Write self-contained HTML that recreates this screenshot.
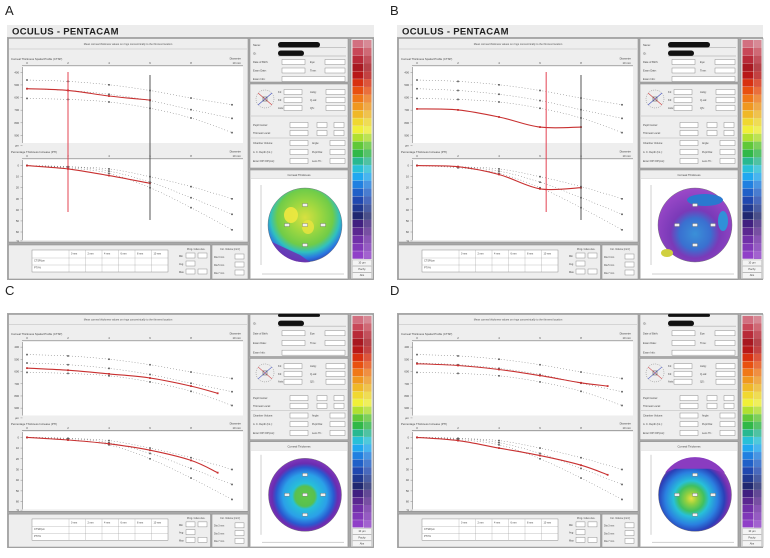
<!DOCTYPE html>
<html><head><meta charset="utf-8"><style>
html,body{margin:0;padding:0;background:#fff;width:770px;height:558px;overflow:hidden}
svg{display:block;font-family:"Liberation Sans",sans-serif}
</style></head><body>
<svg id="fig" width="770" height="558" viewBox="0 0 770 558" xmlns="http://www.w3.org/2000/svg"></svg>
<script>
// ---- data ----
const diam = [0, 2, 4, 6, 8, 10];
const ctspUpper = [461, 472, 499, 544, 604, 657];
const ctspMean = [530, 544, 574, 624, 696, 765];
const ctspLower = [607, 615, 635, 685, 762, 878];
const ptiUpper = [0, 1, 3, 10, 19, 30];
const ptiMean = [0, 1, 5, 15, 29, 44];
const ptiLower = [0, 2, 7, 20, 38, 58];
const ctspTicks = ["400", "500", "600", "700", "800", "900", "µm"];
const ptiTicks = ["0", "10", "20", "30", "40", "50", "60", "%"];
const xTicks = ["0", "2", "4", "6", "8", "10 mm"];
const panelLetters = ["A", "B", "C", "D"];
const redDiamA = [0, 2, 4, 6];
const redCtspA = [530, 543, 588, 620];
const redPtiA = [0, 3, 9, 16];
const redDiamB = [0, 2, 4, 6, 8];
const redCtspB = [690, 698, 754, 834, 834];
const redPtiB = [0, 1, 8, 21, 20];
const redDiamC = [0, 2, 4, 6, 8, 9.3];
const redCtspC = [572, 589, 619, 653, 719, 778];
const redPtiC = [0, 2.5, 6, 12, 21.5, 33];
const redDiamD = [0, 2, 4, 6, 8, 9.3];
const redCtspD = [536, 550, 583, 633, 692, 719];
const redPtiD = [0, 3, 10, 17, 26, 35];
const markerRed = [2, 6.3, null, null];
const markerGrey = [6, 8, null, null];
const barColors = ["#d27080","#c84858","#b82a38","#a81820","#b81818","#d83010","#e85010","#f07818","#f09820","#f0b828","#f0d830","#f0f038","#b0e030","#60c838","#30b848","#28b890","#28c0d8","#20a8f0","#2080e0","#2060c8","#2048b0","#203890","#202870","#402080","#5a2890","#7030a8","#8038b8","#9040c8"];

const S = document.getElementById('fig');
const NS = 'http://www.w3.org/2000/svg';
function el(tag, attrs, parent, txt) {
  const e = document.createElementNS(NS, tag);
  for (const k in attrs) e.setAttribute(k, attrs[k]);
  if (txt !== undefined) e.textContent = txt;
  (parent || S).appendChild(e);
  return e;
}
function smoothPath(P) {
  let d = 'M' + P[0][0].toFixed(1) + ' ' + P[0][1].toFixed(1);
  for (let i = 0; i < P.length - 1; i++) {
    const p0 = P[Math.max(0, i - 1)], p1 = P[i], p2 = P[i + 1], p3 = P[Math.min(P.length - 1, i + 2)];
    const c1 = [p1[0] + (p2[0] - p0[0]) / 6, p1[1] + (p2[1] - p0[1]) / 6];
    const c2 = [p2[0] - (p3[0] - p1[0]) / 6, p2[1] - (p3[1] - p1[1]) / 6];
    d += ' C' + c1.map(v => v.toFixed(1)).join(' ') + ' ' + c2.map(v => v.toFixed(1)).join(' ') + ' ' + p2.map(v => v.toFixed(1)).join(' ');
  }
  return d;
}

const defs = el('defs', {});
function grad(id, stops, cx, cy, r) {
  const g = el('radialGradient', {id: id, cx: cx, cy: cy, r: r}, defs);
  stops.forEach(s => el('stop', {offset: s[0], 'stop-color': s[1]}, g));
}
grad('mapA', [[0,'#d8e040'],[0.3,'#a0d840'],[0.58,'#70cc48'],[0.72,'#30c0c0'],[0.84,'#2a78e0'],[0.93,'#3048b8'],[1,'#7030b0']], '0.5', '0.4', '0.65');
grad('mapB', [[0,'#3a90d8'],[0.35,'#3a70d0'],[0.55,'#7a3ab8'],[1,'#9a48c8']], '0.5', '0.62', '0.6');
grad('mapC', [[0,'#60c848'],[0.25,'#58c050'],[0.32,'#28c0d8'],[0.55,'#2aa0e8'],[0.72,'#2a58d0'],[0.82,'#6a2cb0'],[1,'#8a3cc0']], '0.5', '0.52', '0.55');
grad('mapD', [[0,'#e8e040'],[0.14,'#90d040'],[0.3,'#40c060'],[0.42,'#28c0d8'],[0.62,'#2a80e0'],[0.78,'#2a40b8'],[0.88,'#7030b0'],[1,'#9040c0']], '0.45', '0.55', '0.58');

function panel(idx, ox, oy, hasHeader, fx, fy, fw, fh, redD, redC, redP, mapId) {
  const g = el('g', {});
  
  
  const lab = el('text', {x: ox + 5, y: oy + 15, 'font-size': 13, fill: '#222'}, g, panelLetters[idx]);
  
  
  if (hasHeader) {
    const hb = el('rect', {x: fx, y: fy - 12, width: fw, height: 12, fill: '#ececec'}, g);
    
    
    const ht = el('text', {x: fx + 5, y: fy - 2.5, 'font-size': 9.5, 'font-weight': 'bold', fill: '#222', 'letter-spacing': '0.3'}, g, 'OCULUS  -  PENTACAM');
    
    
  }
  const k = fh / 243;
  const Y = v => fy + v * k;
  const fr = el('rect', {x: fx, y: fy, width: fw, height: fh, fill: '#a8a8a8'}, g);
  
  
  const cb = el('rect', {x: fx + 1.5, y: Y(1.5), width: 239.5, height: Y(205) - Y(1.5), fill: '#eeeeee', stroke: '#888', 'stroke-width': 0.5}, g);
  
  
  el('text', {x: fx + 121, y: Y(8), 'font-size': 2.6, 'text-anchor': 'middle', fill: '#555'}, g, 'Mean corneal thickness values on rings concentrically to the thinnest location');
  el('line', {x1: fx + 2, x2: fx + 240, y1: Y(12), y2: Y(12), stroke: '#bbb', 'stroke-width': 0.5}, g);

  const xL = fx + 20, xR = fx + 225;
  const xs = d => xL + (xR - xL) * d / 10;

  function chart(top, bot, ticks, vmin, vmax, title, up, mid, lo, red, name) {
    const cg = el('g', {}, g);
    
    
    el('text', {x: fx + 4, y: top - 7, 'font-size': 2.8, fill: '#444'}, cg, title);
    el('text', {x: fx + 234, y: top - 7.5, 'font-size': 2.8, 'text-anchor': 'end', fill: '#444'}, cg, 'Diameter');
    xTicks.forEach((t, i) => {
      el('text', {x: i === 5 ? fx + 234 : xs(diam[i]), y: top - 3, 'font-size': 2.8, 'text-anchor': i === 5 ? 'end' : 'middle', fill: '#444'}, cg, t);
    });
    el('line', {x1: fx + 15, x2: fx + 236, y1: top - 1.5, y2: top - 1.5, stroke: '#777', 'stroke-width': 0.6}, cg);
    el('rect', {x: fx + 15, y: top, width: 221, height: bot - top, fill: '#fff'}, cg);
    el('line', {x1: fx + 15.5, x2: fx + 15.5, y1: top, y2: bot, stroke: '#777', 'stroke-width': 0.6}, cg);
    const n = ticks.length - 1;
    const t0 = top + (bot - top) * 0.07, t1 = top + (bot - top) * 0.9;
    const ys = v => t0 + (t1 - t0) * (v - vmin) / (vmax - vmin);
    ticks.forEach((t, i) => {
      const yy = i < n ? ys(vmin + (vmax - vmin) * i / (n - 1)) : t1 + (t1 - t0) / (n - 1) * 0.8;
      el('text', {x: fx + 12, y: yy + 1, 'font-size': 2.8, 'text-anchor': 'end', fill: '#444'}, cg, t);
      el('line', {x1: fx + 13.5, x2: fx + 15.5, y1: yy, y2: yy, stroke: '#777', 'stroke-width': 0.4}, cg);
    });
    function series(vals, dd, col, w, dash, nm, ps) {
      const P = dd.map((d, i) => [xs(d), ys(vals[i])]);
      const pl = el('path', {d: smoothPath(P), fill: 'none', stroke: col, 'stroke-width': w, 'stroke-dasharray': dash}, cg);
      
      
      dd.forEach((d, i) => {
        const r = el('rect', {x: xs(d) - ps / 2, y: ys(vals[i]) - ps / 2, width: ps, height: ps, fill: col}, cg);
        
        
      });
    }
    series(up, diam, '#555', 0.5, '0.8 2.2', 'normal-upper-line', 1.6);
    series(mid, diam, '#555', 0.5, '0.8 2.2', 'normal-mean-line', 1.6);
    series(lo, diam, '#555', 0.5, '0.8 2.2', 'normal-lower-line', 1.6);
    series(red, redD, '#c83030', 1.1, 'none', 'patient-line', 1.8);
    return ys;
  }
  const uTop = Y(30), uBot = Y(106), lTop = Y(123), lBot = Y(203);
  chart(uTop, uBot, ctspTicks, 400, 900, 'Corneal Thickness Spatial Profile (CTSP)', ctspUpper, ctspMean, ctspLower, redC, 'ctsp-chart');
  chart(lTop, lBot, ptiTicks, 0, 60, 'Percentage Thickness Increase (PTI)', ptiUpper, ptiMean, ptiLower, redP, 'pti-chart');
  if (markerRed[idx] !== null) {
    const m = el('line', {x1: xs(markerRed[idx]), x2: xs(markerRed[idx]), y1: uTop + 5, y2: lBot - 28, stroke: '#e03040', 'stroke-width': 0.9}, g);
    
    
    const m2 = el('line', {x1: xs(markerGrey[idx]), x2: xs(markerGrey[idx]), y1: uTop + 8, y2: lBot - 20, stroke: '#444', 'stroke-width': 0.9}, g);
    
    
  }
  const tb = el('rect', {x: fx + 1.5, y: Y(208), width: 202, height: Y(242) - Y(208), fill: '#eeeeee', stroke: '#888', 'stroke-width': 0.5}, g);
  
  
  const tx = fx + 25, tw = 136, rowY = [Y(214), Y(221), Y(228), Y(235)];
  el('rect', {x: tx, y: rowY[0] - 1, width: tw, height: rowY[3] - rowY[0] + 1, fill: '#fff', stroke: '#777', 'stroke-width': 0.4}, g);
  ['', '0 mm', '2 mm', '4 mm', '6 mm', '8 mm', '10 mm'].forEach((h, i) => {
    const cx = tx + (i === 0 ? 0 : 37 + (i - 1) * 16.5);
    if (i > 0) el('line', {x1: cx, x2: cx, y1: rowY[0] - 1, y2: rowY[3], stroke: '#999', 'stroke-width': 0.3}, g);
    el('text', {x: cx + 2, y: rowY[0] + 3.5, 'font-size': 2.5, fill: '#444'}, g, h);
  });
  el('text', {x: tx + 2, y: rowY[1] + 3.5, 'font-size': 2.5, fill: '#444'}, g, 'CTSP/µm');
  el('text', {x: tx + 2, y: rowY[2] + 3.5, 'font-size': 2.5, fill: '#444'}, g, 'PTI/%');
  [1, 2].forEach(r => el('line', {x1: tx, x2: tx + tw, y1: rowY[r], y2: rowY[r], stroke: '#999', 'stroke-width': 0.3}, g));
  el('text', {x: fx + 180, y: Y(213), 'font-size': 2.5, fill: '#444'}, g, 'Prog. Index   Ave.');
  ['Min', 'Avg', 'Max'].forEach((t, i) => {
    el('text', {x: fx + 172, y: Y(219 + i * 8) + 1, 'font-size': 2.5, fill: '#444'}, g, t);
    el('rect', {x: fx + 179, y: Y(216 + i * 8), width: 9, height: 5, fill: '#fff', stroke: '#777', 'stroke-width': 0.4}, g);
    if (i !== 1) el('rect', {x: fx + 191, y: Y(216 + i * 8), width: 9, height: 5, fill: '#fff', stroke: '#777', 'stroke-width': 0.4}, g);
  });
  const eb = el('rect', {x: fx + 205, y: Y(208), width: 36, height: Y(242) - Y(208), fill: '#eeeeee', stroke: '#888', 'stroke-width': 0.5}, g);
  
  
  el('text', {x: fx + 223, y: Y(213), 'font-size': 2.4, 'text-anchor': 'middle', fill: '#444'}, g, 'Cor. Volume [mm³]');
  ['Dia 3 mm', 'Dia 5 mm', 'Dia 7 mm'].forEach((t, i) => {
    el('text', {x: fx + 207, y: Y(221 + i * 8), 'font-size': 2.4, fill: '#444'}, g, t);
    el('rect', {x: fx + 228, y: Y(217 + i * 8), width: 9, height: 5, fill: '#fff', stroke: '#777', 'stroke-width': 0.4}, g);
  });
  const rx = fx + 243;
  const ib = el('rect', {x: rx, y: Y(1.5), width: 98, height: Y(45) - Y(1.5), fill: '#eeeeee', stroke: '#888', 'stroke-width': 0.5}, g);
  
  
  const infoLabels = hasHeader ? ['Name:', 'ID:', 'Date of Birth:', 'Exam Date:', 'Exam Info:'] : ['ID:', 'Date of Birth:', 'Exam Date:', 'Exam Info:'];
  infoLabels.forEach((t, i) => {
    const yy = Y(8 + i * (hasHeader ? 8.5 : 10) + (hasHeader ? 0 : 3));
    el('text', {x: rx + 3, y: yy + 1, 'font-size': 2.6, fill: '#444'}, g, t);
    if (t === 'Name:' || t === 'ID:') {
      el('rect', {x: rx + 28, y: yy - 3, width: t === 'ID:' ? 26 : 42, height: 5.5, rx: 2.7, fill: '#111'}, g);
      el('line', {x1: rx + 28, x2: rx + 96, y1: yy + 2.5, y2: yy + 2.5, stroke: '#888', 'stroke-width': 0.4}, g);
    } else if (t === 'Exam Info:') {
      el('rect', {x: rx + 32, y: yy - 2.5, width: 63, height: 5, fill: '#fff', stroke: '#777', 'stroke-width': 0.4}, g);
    } else {
      el('rect', {x: rx + 32, y: yy - 2.5, width: 23, height: 5, fill: '#fff', stroke: '#777', 'stroke-width': 0.4}, g);
      el('text', {x: rx + 60, y: yy + 1, 'font-size': 2.6, fill: '#444'}, g, t === 'Date of Birth:' ? 'Eye:' : 'Time:');
      el('rect', {x: rx + 75, y: yy - 2.5, width: 20, height: 5, fill: '#fff', stroke: '#777', 'stroke-width': 0.4}, g);
    }
  });
  if (!hasHeader) el('rect', {x: rx + 28, y: Y(2) - 1, width: 42, height: 3, rx: 1.5, fill: '#111'}, g);
  const kb = el('rect', {x: rx, y: Y(47), width: 98, height: Y(131) - Y(47), fill: '#eeeeee', stroke: '#888', 'stroke-width': 0.5}, g);
  
  
  const kcx = rx + 15, kcy = Y(62);
  el('circle', {cx: kcx, cy: kcy, r: 9, fill: 'none', stroke: '#666', 'stroke-width': 0.4, 'stroke-dasharray': '1 1'}, g);
  el('line', {x1: kcx - 7, y1: kcy - 6, x2: kcx + 7, y2: kcy + 6, stroke: '#d04040', 'stroke-width': 0.6}, g);
  el('line', {x1: kcx - 7, y1: kcy + 6, x2: kcx + 7, y2: kcy - 6, stroke: '#4050c0', 'stroke-width': 0.6}, g);
  el('rect', {x: kcx - 2, y: kcy - 2, width: 4, height: 4, fill: 'none', stroke: '#444', 'stroke-width': 0.5}, g);
  [['K1:', 'Astig:'], ['K2:', 'Q-val:'], ['Axis:', 'QS:']].forEach((p, i) => {
    const yy = Y(55 + i * 8);
    el('text', {x: rx + 28, y: yy + 1, 'font-size': 2.6, fill: '#444'}, g, p[0]);
    el('rect', {x: rx + 34, y: yy - 2.5, width: 18, height: 5, fill: '#fff', stroke: '#777', 'stroke-width': 0.4}, g);
    el('text', {x: rx + 60, y: yy + 1, 'font-size': 2.6, fill: '#444'}, g, p[1]);
    el('rect', {x: rx + 76, y: yy - 2.5, width: 19, height: 5, fill: '#fff', stroke: '#777', 'stroke-width': 0.4}, g);
  });
  el('line', {x1: rx + 1, x2: rx + 97, y1: Y(79), y2: Y(79), stroke: '#aaa', 'stroke-width': 0.4}, g);
  ['Pupil Center:', 'Thinnest Local:'].forEach((t, i) => {
    const yy = Y(88 + i * 8);
    el('text', {x: rx + 3, y: yy + 1, 'font-size': 2.6, fill: '#444'}, g, t);
    el('rect', {x: rx + 40, y: yy - 2.5, width: 18, height: 5, fill: '#fff', stroke: '#777', 'stroke-width': 0.4}, g);
    el('rect', {x: rx + 67, y: yy - 2.5, width: 10, height: 5, fill: '#fff', stroke: '#777', 'stroke-width': 0.4}, g);
    el('rect', {x: rx + 84, y: yy - 2.5, width: 10, height: 5, fill: '#fff', stroke: '#777', 'stroke-width': 0.4}, g);
  });
  el('line', {x1: rx + 1, x2: rx + 97, y1: Y(101), y2: Y(101), stroke: '#aaa', 'stroke-width': 0.4}, g);
  [['Chamber Volume:', 'Angle:'], ['A. C. Depth (Int.):', 'Pupil Dia:'], ['Enter IOP  IOP(cor):', 'Lens Th.:']].forEach((p, i) => {
    const yy = Y(106 + i * 9);
    el('text', {x: rx + 3, y: yy + 1, 'font-size': 2.5, fill: '#444'}, g, p[0]);
    el('rect', {x: rx + 40, y: yy - 2.5, width: 18, height: 5, fill: '#fff', stroke: '#777', 'stroke-width': 0.4}, g);
    el('text', {x: rx + 62, y: yy + 1, 'font-size': 2.5, fill: '#444'}, g, p[1]);
    el('rect', {x: rx + 80, y: yy - 2.5, width: 15, height: 5, fill: '#fff', stroke: '#777', 'stroke-width': 0.4}, g);
  });
  const mb = el('rect', {x: rx, y: Y(133), width: 98, height: Y(242) - Y(133), fill: '#eeeeee', stroke: '#888', 'stroke-width': 0.5}, g);
  
  
  el('text', {x: rx + 49, y: Y(139), 'font-size': 2.8, 'text-anchor': 'middle', fill: '#444'}, g, 'Corneal Thickness');
  el('line', {x1: rx + 1, x2: rx + 97, y1: Y(142), y2: Y(142), stroke: '#aaa', 'stroke-width': 0.4}, g);
  el('rect', {x: rx + 1, y: Y(142), width: 96, height: Y(241) - Y(142), fill: '#fff'}, g);
  const mcx = rx + 55, mcy = Y(188), mr = 37 * Math.min(1, k * 1.02);
  el('line', {x1: rx + 11, x2: rx + 11, y1: mcy - 40, y2: mcy + 40, stroke: '#888', 'stroke-width': 0.4}, g);
  el('line', {x1: rx + 12, x2: rx + 94, y1: Y(237), y2: Y(237), stroke: '#888', 'stroke-width': 0.4}, g);
  const mc = el('circle', {cx: mcx, cy: mcy, r: mr, fill: 'url(#' + mapId + ')', stroke: '#666', 'stroke-width': 0.4}, g);
  
  
  if (mapId === 'mapA') {
    el('ellipse', {cx: mcx - 14, cy: mcy - 10, rx: 7, ry: 8, fill: '#f0e840', opacity: 0.9}, g);
    el('ellipse', {cx: mcx + 3, cy: mcy + 2, rx: 6, ry: 7, fill: '#e8e440', opacity: 0.85}, g);
    el('path', {d: `M${mcx - 33} ${mcy + 17} A${mr} ${mr} 0 0 0 ${mcx + 5} ${mcy + mr} L${mcx - 5} ${mcy + 30} Z`, fill: '#7030b0', opacity: 0.85}, g);
  }
  if (mapId === 'mapB') {
    el('ellipse', {cx: mcx + 10, cy: mcy - 25, rx: 18, ry: 6, fill: '#2a78d0'}, g);
    el('ellipse', {cx: mcx + 28, cy: mcy - 4, rx: 5, ry: 10, fill: '#3090d8'}, g);
    el('ellipse', {cx: mcx - 28, cy: mcy + 28, rx: 6, ry: 4, fill: '#d0d040'}, g);
  }
  if (mapId === 'mapD') {
    el('path', {d: `M${mcx - 30} ${mcy - 22} A${mr} ${mr} 0 0 1 ${mcx + 30} ${mcy - 22} L${mcx + 15} ${mcy - 26} L${mcx - 20} ${mcy - 26} Z`, fill: '#8a3cc0'}, g);
  }
  [[0, 0], [0, -20], [0, 20], [-18, 0], [18, 0]].forEach(o => {
    el('rect', {x: mcx + o[0] - 2.5, y: mcy + o[1] - 1.5, width: 5, height: 3, fill: '#eee', stroke: '#555', 'stroke-width': 0.3}, g);
  });
  const bx = fx + 344;
  const bb = el('rect', {x: bx, y: Y(1.5), width: 22, height: Y(242) - Y(1.5), fill: '#e8e8e8', stroke: '#888', 'stroke-width': 0.5}, g);
  
  
  const by0 = Y(3), by1 = Y(222), bh = (by1 - by0) / barColors.length;
  barColors.forEach((c, i) => {
    const sw = el('rect', {x: bx + 1.5, y: by0 + i * bh, width: 11, height: bh - 0.3, fill: c}, g);
    
    
    el('rect', {x: bx + 13, y: by0 + i * bh, width: 7.5, height: bh, fill: c, opacity: 0.8}, g);
  });
  ['10 µm', 'Pachy', 'Abs'].forEach((t, i) => {
    el('rect', {x: bx + 1.5, y: by1 + 1 + i * (Y(242) - by1 - 1) / 3, width: 19, height: (Y(242) - by1 - 1) / 3 - 0.5, fill: '#f4f4f4', stroke: '#999', 'stroke-width': 0.3}, g);
    el('text', {x: bx + 11, y: by1 + 4.5 + i * (Y(242) - by1 - 1) / 3, 'font-size': 2.6, 'text-anchor': 'middle', fill: '#444'}, g, t);
  });
}
panel(0, 0, 0, true, 7, 37, 367, 243, redDiamA, redCtspA, redPtiA, 'mapA');
panel(1, 385, 0, true, 397, 37, 366, 243, redDiamB, redCtspB, redPtiB, 'mapB');
panel(2, 0, 280, false, 7, 313, 367, 235, redDiamC, redCtspC, redPtiC, 'mapC');
panel(3, 385, 280, false, 397, 313, 366, 235, redDiamD, redCtspD, redPtiD, 'mapD');
</script>
</body></html>
